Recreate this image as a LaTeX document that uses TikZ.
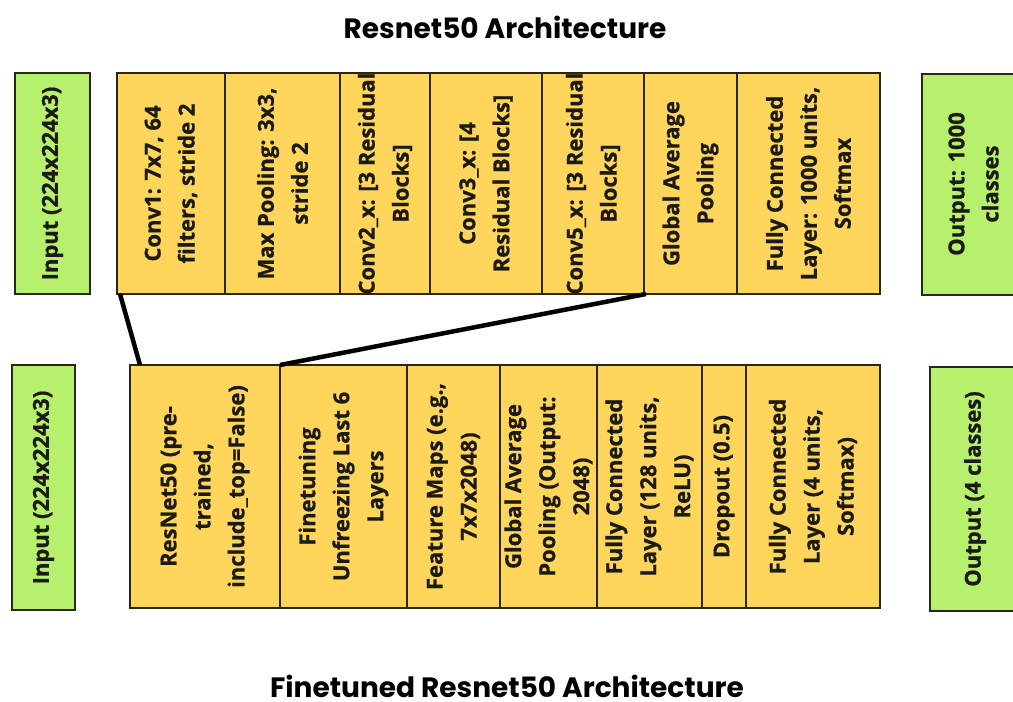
\documentclass[tikz,border=0pt]{standalone}
\usepackage{fontspec}
\newfontfamily\boxfont{Open Sans}[BoldFeatures={FakeBold=0.8}]
\newfontfamily\headfont{Poppins}
\definecolor{layerfill}{HTML}{FFD55C}
\definecolor{iofill}{HTML}{B6F06C}
\definecolor{edge}{HTML}{2A2618}
\definecolor{ink}{HTML}{1C1A14}
\begin{document}
\begin{tikzpicture}[x=1pt,y=-1pt,
  layer/.style={draw=edge, line width=2pt, fill=layerfill, inner sep=0pt, outer sep=0pt},
  iobox/.style={draw=edge, line width=2pt, fill=iofill, inner sep=0pt, outer sep=0pt},
  lbl/.style={rotate=90, align=center, inner sep=0pt, text=ink,
    font=\boxfont\bfseries\fontsize{22}{34}\selectfont},
  heading/.style={inner sep=0pt, anchor=base, text=black, font=\headfont\bfseries\fontsize{28}{32}\selectfont},
  link/.style={draw=black, line width=4.5pt}]
\useasboundingbox (0,0) rectangle (1013,702);

% headings
\node[heading] (h-top) at (505,38) {Resnet50 Architecture};
\node[heading] (h-bot) at (507,697) {Finetuned Resnet50 Architecture};

% ---- ResNet50 row ----
\node[iobox, minimum width=75pt, minimum height=221pt] (inT) at (52.5,183.5) {};
\node[layer, minimum width=108pt, minimum height=221pt] (conv1) at (171,183.5) {};
\node[layer, minimum width=115pt, minimum height=221pt] (maxp) at (282.5,183.5) {};
\node[layer, minimum width=90pt, minimum height=221pt] (conv2) at (385,183.5) {};
\node[layer, minimum width=112pt, minimum height=221pt] (conv3) at (486,183.5) {};
\node[layer, minimum width=102pt, minimum height=221pt] (conv5) at (593,183.5) {};
\node[layer, minimum width=93pt, minimum height=221pt] (gapT) at (690.5,183.5) {};
\node[layer, minimum width=143pt, minimum height=221pt] (fcT) at (808.5,183.5) {};
\node[iobox, minimum width=103pt, minimum height=221pt] (outT) at (973.5,184) {};

\node[lbl] (t-inT) at (inT.center) {Input (224x224x3)};
\node[lbl] (t-conv1) at (conv1.center) {Conv1: 7x7, 64\\filters, stride 2};
\node[lbl] (t-maxp) at (maxp.center) {Max Pooling: 3x3,\\stride 2};
\begin{scope}
  \clip (conv2.south west) rectangle (conv2.north east);
  \node[lbl] (t-conv2) at (conv2.center) {Conv2\_x: [3 Residual\\Blocks]};
\end{scope}
\node[lbl] (t-conv3) at (conv3.center) {Conv3\_x: [4\\Residual Blocks]};
\begin{scope}
  \clip (conv5.south west) rectangle (conv5.north east);
  \node[lbl] (t-conv5) at (conv5.center) {Conv5\_x: [3 Residual\\Blocks]};
\end{scope}
\node[lbl] (t-gapT) at (gapT.center) {Global Average\\Pooling};
\node[lbl] (t-fcT) at (fcT.center) {Fully Connected\\Layer: 1000 units,\\Softmax};
\node[lbl] (t-outT) at (outT.center) {Output: 1000\\classes};

% ---- Finetuned row ----
\node[iobox, minimum width=63pt, minimum height=245pt] (inB) at (43.5,487.5) {};
\node[layer, minimum width=150pt, minimum height=243pt] (resnet) at (205,486.5) {};
\node[layer, minimum width=127pt, minimum height=243pt] (finet) at (343.5,486.5) {};
\node[layer, minimum width=93pt, minimum height=243pt] (feat) at (453.5,486.5) {};
\node[layer, minimum width=97pt, minimum height=243pt] (gapB) at (548.5,486.5) {};
\node[layer, minimum width=105pt, minimum height=243pt] (fcB1) at (649.5,486.5) {};
\node[layer, minimum width=44pt, minimum height=243pt] (drop) at (724,486.5) {};
\node[layer, minimum width=134pt, minimum height=243pt] (fcB2) at (813,486.5) {};
\node[iobox, minimum width=90pt, minimum height=244pt] (outB) at (975,489) {};

\node[lbl] (t-inB) at (inB.center) {Input (224x224x3)};
\node[lbl] (t-resnet) at (resnet.center) {ResNet50 (pre-\\trained,\\include\_top=False)};
\node[lbl] (t-finet) at (finet.center) {Finetuning\\Unfreezing Last 6\\Layers};
\node[lbl] (t-feat) at (feat.center) {Feature Maps (e.g.,\\7x7x2048)};
\node[lbl] (t-gapB) at (gapB.center) {Global Average\\Pooling (Output:\\2048)};
\node[lbl] (t-fcB1) at (fcB1.center) {Fully Connected\\Layer (128 units,\\ReLU)};
\node[lbl] (t-drop) at (drop.center) {Dropout (0.5)};
\node[lbl] (t-fcB2) at (fcB2.center) {Fully Connected\\Layer (4 units,\\Softmax)};
\node[lbl] (t-outB) at (outB.center) {Output (4 classes)};

% the pretrained span of the upper row maps onto the ResNet50 block
\draw[link] ([xshift=3pt]conv1.south west) -- ([xshift=10pt]resnet.north west);
\draw[link] ([xshift=2pt]gapT.south west) -- (finet.north west);
\end{tikzpicture}
\end{document}
